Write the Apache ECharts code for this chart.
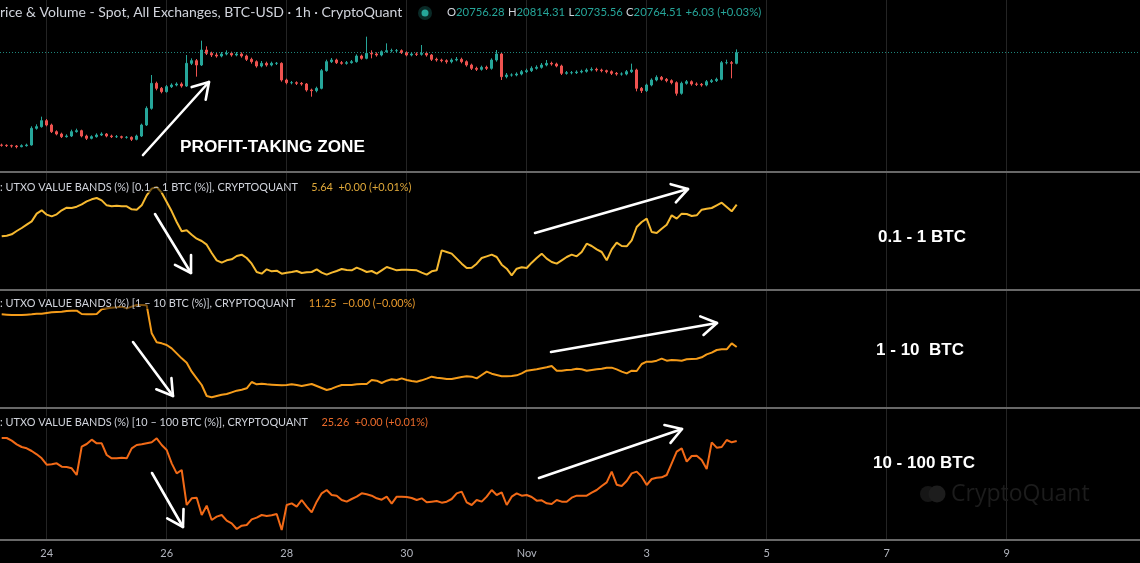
<!DOCTYPE html>
<html><head><meta charset="utf-8">
<script src="https://cdn.jsdelivr.net/npm/echarts@6/dist/echarts.min.js"></script>
<style>html,body{margin:0;padding:0;background:#000;}#chart{width:1140px;height:563px;}</style>
</head><body><div id="chart"></div>
<script>
// x values: hours since Oct 24 00:00 (2-hour bars starting Oct 23 06:00)
const startHour = -18;
const stepHours = 2;
const tickHours = [0, 48, 96, 144, 192, 240, 288, 336, 384];
const tickLabels = ['24', '26', '28', '30', 'Nov', '3', '5', '7', '9'];

const priceOpen = [19380,19375,19370,19365,19355,19370,19380,19630,19655,19745,
19680,19580,19545,19505,19515,19580,19595,19515,19480,19505,
19530,19545,19515,19505,19505,19495,19495,19465,19515,19680,
19930,20305,20230,20180,20255,20280,20295,20265,20605,20645,
20580,20805,20755,20730,20715,20745,20755,20730,20745,20715,
20665,20630,20565,20605,20580,20605,20605,20355,20315,20315,
20305,20295,20205,20195,20230,20495,20630,20655,20615,20605,
20615,20630,20715,20680,20755,20745,20730,20780,20795,20795,
20795,20765,20730,20745,20740,20755,20730,20665,20655,20645,
20630,20655,20665,20630,20580,20530,20515,20545,20530,20655,
20745,20405,20430,20430,20445,20480,20495,20530,20545,20580,
20605,20595,20565,20455,20465,20465,20475,20485,20505,20515,
20505,20495,20480,20455,20445,20445,20480,20505,20230,20195,
20280,20355,20395,20365,20345,20315,20155,20305,20330,20295,
20290,20280,20330,20345,20365,20615,20615,20605];
const priceClose = [19375,19370,19365,19355,19370,19380,19630,19655,19745,19680,
19580,19545,19505,19515,19580,19595,19515,19480,19505,19530,
19545,19515,19505,19505,19495,19495,19465,19515,19680,19930,
20305,20230,20180,20255,20280,20295,20265,20605,20645,20580,
20805,20755,20730,20715,20745,20755,20730,20745,20715,20665,
20630,20565,20605,20580,20605,20605,20355,20315,20315,20305,
20295,20205,20195,20230,20495,20630,20655,20615,20605,20615,
20630,20715,20680,20755,20745,20730,20780,20795,20795,20795,
20765,20730,20745,20740,20755,20730,20665,20655,20645,20630,
20655,20665,20630,20580,20530,20515,20545,20530,20655,20745,
20405,20430,20430,20445,20480,20495,20530,20545,20580,20605,
20595,20565,20455,20465,20465,20475,20485,20505,20515,20505,
20495,20480,20455,20445,20445,20480,20505,20230,20195,20280,
20355,20395,20365,20345,20315,20155,20305,20330,20295,20290,
20280,20330,20345,20365,20615,20615,20605,20764.51];
const priceHigh = [19400,19390,19385,19380,19390,19400,19660,19690,19805,19770,
19700,19600,19565,19540,19610,19625,19610,19535,19525,19555,
19570,19560,19535,19530,19520,19515,19510,19535,19700,19960,
20430,20330,20250,20280,20305,20320,20320,20730,20680,20670,
20945,20860,20780,20760,20775,20800,20780,20775,20770,20735,
20690,20650,20640,20630,20630,20625,20620,20375,20340,20335,
20325,20310,20225,20255,20520,20660,20685,20675,20640,20640,
20655,20740,20735,21005,20800,20770,20800,20905,20825,20820,
20815,20785,20770,20770,20880,20780,20745,20690,20675,20665,
20680,20700,20690,20650,20600,20555,20570,20570,20680,20805,
20760,20460,20455,20470,20505,20525,20560,20575,20610,20655,
20630,20615,20585,20490,20490,20500,20510,20530,20545,20540,
20525,20510,20500,20475,20470,20505,20600,20525,20250,20300,
20380,20425,20415,20385,20365,20335,20330,20355,20350,20320,
20310,20355,20370,20390,20640,20660,20640,20814.31];
const priceLow = [19355,19350,19340,19330,19345,19355,19370,19610,19640,19660,
19560,19525,19485,19490,19500,19565,19495,19455,19465,19490,
19515,19495,19485,19485,19475,19475,19440,19450,19500,19665,
19910,20200,20155,20165,20235,20260,20240,20250,20580,20405,
20565,20730,20700,20690,20695,20725,20705,20710,20690,20640,
20600,20540,20545,20555,20560,20580,20330,20290,20290,20280,
20270,20180,20105,20170,20215,20480,20610,20595,20585,20585,
20600,20615,20660,20665,20680,20705,20710,20765,20770,20770,
20745,20710,20710,20715,20720,20705,20640,20630,20620,20600,
20605,20635,20605,20555,20505,20490,20495,20505,20510,20630,
20355,20380,20405,20410,20425,20460,20475,20510,20525,20560,
20570,20545,20430,20435,20440,20445,20455,20465,20485,20480,
20470,20455,20430,20420,20420,20425,20460,20185,20160,20175,
20260,20335,20345,20320,20290,20120,20135,20285,20270,20265,
20255,20260,20310,20325,20350,20590,20380,20590];

const band01to1 = [5.546,5.548,5.552,5.562,5.571,5.581,5.591,5.614,5.624,5.611,
5.606,5.612,5.624,5.632,5.631,5.635,5.642,5.651,5.657,5.661,
5.654,5.639,5.636,5.638,5.636,5.636,5.627,5.626,5.639,5.669,
5.689,5.694,5.677,5.649,5.621,5.589,5.561,5.564,5.551,5.539,
5.532,5.521,5.496,5.474,5.467,5.474,5.477,5.487,5.491,5.481,
5.464,5.439,5.434,5.447,5.441,5.443,5.434,5.437,5.439,5.442,
5.436,5.438,5.439,5.447,5.437,5.431,5.437,5.442,5.448,5.445,
5.444,5.452,5.446,5.439,5.442,5.434,5.444,5.454,5.449,5.444,
5.446,5.446,5.445,5.444,5.437,5.431,5.441,5.444,5.504,5.499,
5.494,5.479,5.464,5.451,5.452,5.464,5.481,5.486,5.491,5.484,
5.461,5.449,5.429,5.449,5.453,5.451,5.467,5.481,5.494,5.479,
5.469,5.464,5.474,5.484,5.491,5.486,5.499,5.524,5.517,5.507,
5.499,5.474,5.507,5.527,5.517,5.516,5.534,5.574,5.589,5.599,
5.559,5.556,5.569,5.581,5.609,5.599,5.614,5.613,5.607,5.609,
5.626,5.629,5.631,5.639,5.647,5.634,5.621,5.641];
const band1to10 = [11.446,11.444,11.442,11.442,11.442,11.444,11.446,11.450,11.450,11.454,
11.458,11.460,11.462,11.466,11.468,11.468,11.448,11.446,11.446,11.448,
11.476,11.482,11.486,11.488,11.492,11.482,11.492,11.502,11.502,11.500,
11.332,11.278,11.272,11.262,11.242,11.212,11.182,11.156,11.102,11.062,
11.022,10.956,10.948,10.956,10.964,10.968,10.978,10.988,10.994,11.002,
11.040,11.026,11.030,11.026,11.024,11.022,11.020,11.022,11.026,11.022,
11.016,11.022,11.028,11.016,11.004,10.992,11.000,11.012,11.022,11.022,
11.022,11.026,11.028,11.028,11.052,11.048,11.034,11.048,11.056,11.052,
11.062,11.052,11.046,11.042,11.050,11.060,11.072,11.066,11.062,11.058,
11.058,11.064,11.070,11.074,11.072,11.062,11.082,11.102,11.090,11.082,
11.074,11.074,11.076,11.080,11.092,11.108,11.112,11.116,11.122,11.128,
11.136,11.108,11.108,11.112,11.114,11.120,11.116,11.108,11.112,11.116,
11.120,11.126,11.126,11.116,11.102,11.092,11.108,11.106,11.148,11.162,
11.162,11.168,11.180,11.168,11.172,11.170,11.168,11.176,11.178,11.180,
11.188,11.206,11.216,11.232,11.236,11.236,11.272,11.25];
const band10to100 = [25.287,25.287,25.263,25.230,25.206,25.194,25.170,25.140,25.104,25.047,
25.050,25.059,25.029,25.026,25.014,24.954,25.209,25.233,25.272,25.239,
25.239,25.134,25.104,25.104,25.110,25.104,25.194,25.224,25.230,25.239,
25.248,25.284,25.224,25.179,25.059,24.969,24.999,24.684,24.744,24.750,
24.594,24.678,24.549,24.579,24.594,24.543,24.519,24.468,24.498,24.504,
24.555,24.570,24.594,24.585,24.591,24.603,24.459,24.684,24.699,24.669,
24.729,24.669,24.618,24.714,24.789,24.819,24.774,24.768,24.729,24.714,
24.738,24.759,24.789,24.780,24.768,24.744,24.732,24.759,24.696,24.759,
24.759,24.756,24.747,24.729,24.744,24.708,24.714,24.720,24.705,24.714,
24.738,24.789,24.804,24.708,24.684,24.729,24.714,24.759,24.819,24.774,
24.798,24.684,24.759,24.789,24.768,24.774,24.756,24.723,24.726,24.699,
24.693,24.729,24.714,24.714,24.750,24.768,24.768,24.768,24.795,24.819,
24.855,24.888,24.984,24.867,24.855,24.900,24.969,24.984,24.939,24.864,
24.918,24.930,24.933,24.954,25.059,25.164,25.194,25.074,25.125,25.128,
25.089,25.008,25.248,25.200,25.206,25.269,25.248,25.26];

const hours = priceClose.map((_, i) => startHour + i * stepHours);
const candleRows = hours.map((h, i) => [h, priceOpen[i], priceClose[i], priceLow[i], priceHigh[i]]);
const pair = arr => hours.map((h, i) => [h, arr[i]]);

const xMin = -18.68, xMax = 437.32;
const FONT = 'Lato';
function xAxisFor(i, showLabels) {
  return {
    type: 'value', gridIndex: i, min: xMin, max: xMax,
    axisLine: { show: true, onZero: false, lineStyle: { color: '#686868', width: 2 } },
    axisTick: { show: false, customValues: tickHours },
    axisLabel: { show: showLabels, customValues: tickHours, color: '#b2b5be', fontSize: 11, fontFamily: FONT, margin: 8,
      formatter: v => tickLabels[tickHours.indexOf(v)] || '' },
    splitLine: { show: true, lineStyle: { color: '#242424', width: 1 } }
  };
}
function yAxisFor(i, min, max) {
  return { type: 'value', gridIndex: i, min, max, show: false, splitLine: { show: false } };
}
function arrow(x1, y1, x2, y2) {
  const a = Math.atan2(y2 - y1, x2 - x1), L = 18, s = 0.55;
  return [
    { type: 'line', z: 100, shape: { x1, y1, x2, y2 }, style: { stroke: '#fff', lineWidth: 2.6, lineCap: 'round' } },
    { type: 'polyline', z: 100, shape: { points: [[x2 - L * Math.cos(a - s), y2 - L * Math.sin(a - s)], [x2, y2], [x2 - L * Math.cos(a + s), y2 - L * Math.sin(a + s)]] },
      style: { stroke: '#fff', fill: null, lineWidth: 2.6, lineCap: 'round', lineJoin: 'round' } }
  ];
}
function panelTitle(y, band, valueText, color) {
  return { type: 'text', left: 0, top: y - 7, z: 100,
    style: { text: '{a|: UTXO VALUE BANDS (%) [' + band + ' (%)], CRYPTOQUANT}    {b|' + valueText + '}',
      backgroundColor: 'rgba(0,0,0,0.5)',
      rich: { a: { fill: '#d1d4dc', fontSize: 10.9, fontFamily: FONT }, b: { fill: color, fontSize: 10.9, fontFamily: FONT } } } };
}
function bigLabel(cx, cy, text, size) {
  return { type: 'text', z: 100, x: cx, y: cy,
    style: { text, fill: '#ffffff', fontSize: size, fontWeight: 'bold', fontFamily: 'Liberation Sans', align: 'center', verticalAlign: 'middle' } };
}

const chart = echarts.init(document.getElementById('chart'));
chart.setOption({
  backgroundColor: '#000000',
  animation: false,
  grid: [
    { left: 0, right: 0, top: 0, height: 172 },
    { left: 0, right: 0, top: 172, height: 118 },
    { left: 0, right: 0, top: 290, height: 118 },
    { left: 0, right: 0, top: 408, height: 132 }
  ],
  xAxis: [xAxisFor(0, false), xAxisFor(1, false), xAxisFor(2, false), xAxisFor(3, true)],
  yAxis: [yAxisFor(0, 18975, 21555), yAxisFor(1, 5.385, 5.739), yAxisFor(2, 10.884, 11.592), yAxisFor(3, 24.369, 25.557)],
  series: [
    { type: 'candlestick', xAxisIndex: 0, yAxisIndex: 0, barWidth: 2.5,
      dimensions: ['t', 'open', 'close', 'lowest', 'highest'],
      encode: { x: 't', y: ['open', 'close', 'lowest', 'highest'] },
      data: candleRows,
      itemStyle: { color: '#26a69a', color0: '#ef5350', borderColor: '#26a69a', borderColor0: '#ef5350', borderWidth: 1 },
      markLine: { silent: true, symbol: 'none', label: { show: false },
        lineStyle: { color: '#26a69a', type: [1, 2], width: 1, opacity: 0.8 },
        data: [{ yAxis: 20764.51 }] } },
    { type: 'line', xAxisIndex: 1, yAxisIndex: 1, data: pair(band01to1), showSymbol: false,
      lineStyle: { color: '#f6b930', width: 2 } },
    { type: 'line', xAxisIndex: 2, yAxisIndex: 2, data: pair(band1to10), showSymbol: false,
      lineStyle: { color: '#f59c1a', width: 2 } },
    { type: 'line', xAxisIndex: 3, yAxisIndex: 3, data: pair(band10to100), showSymbol: false,
      lineStyle: { color: '#f26a17', width: 2 } }
  ],
  graphic: [
    { type: 'text', left: 0, top: 5, z: 100,
      style: { text: 'rice & Volume - Spot, All Exchanges, BTC-USD · 1h · CryptoQuant', fill: '#d1d4dc', fontSize: 14, fontFamily: FONT } },
    { type: 'circle', z: 100, shape: { cx: 425, cy: 13, r: 7 }, style: { fill: 'rgba(38,166,154,0.25)' } },
    { type: 'circle', z: 100, shape: { cx: 425, cy: 13, r: 3.5 }, style: { fill: '#26a69a' } },
    { type: 'text', left: 447, top: 6, z: 100,
      style: { text: '{l|O}{v|20756.28} {l|H}{v|20814.31} {l|L}{v|20735.56} {l|C}{v|20764.51} {v|+6.03 (+0.03%)}',
        rich: { l: { fill: '#d1d4dc', fontSize: 11.3, fontFamily: FONT }, v: { fill: '#26a69a', fontSize: 11.3, fontFamily: FONT } } } },
    panelTitle(188, '0.1 – 1 BTC', '5.64  +0.00 (+0.01%)', '#e0a93a'),
    panelTitle(304, '1 – 10 BTC', '11.25  −0.00 (−0.00%)', '#e99a2c'),
    panelTitle(423, '10 – 100 BTC', '25.26  +0.00 (+0.01%)', '#ea6a2a'),
    { type: 'text', z: 100, x: 180, y: 147,
      style: { text: 'PROFIT-TAKING ZONE', fill: '#fff', fontSize: 17.2, fontWeight: 'bold', fontFamily: 'Liberation Sans', verticalAlign: 'middle' } },
    bigLabel(922, 237, '0.1 - 1 BTC', 17),
    bigLabel(920, 350, '1 - 10  BTC', 17),
    bigLabel(924, 463, '10 - 100 BTC', 17),
    { type: 'circle', z: 5, shape: { cx: 928, cy: 494, r: 8 }, style: { fill: '#161616' } },
    { type: 'circle', z: 5, shape: { cx: 937, cy: 494, r: 8.5 }, style: { fill: '#1d1d1d' } },
    { type: 'text', z: 5, x: 951, y: 494,
      style: { text: 'CryptoQuant', fill: '#1c1c1c', fontSize: 23, fontFamily: 'Open Sans', verticalAlign: 'middle' } },
    ...arrow(143, 155, 209, 82),
    ...arrow(155, 214, 191, 273),
    ...arrow(535, 233, 688, 189),
    ...arrow(133, 342, 173, 396),
    ...arrow(551, 352, 717, 323),
    ...arrow(152, 473, 183, 527),
    ...arrow(539, 478, 682, 429)
  ]
});
</script></body></html>
